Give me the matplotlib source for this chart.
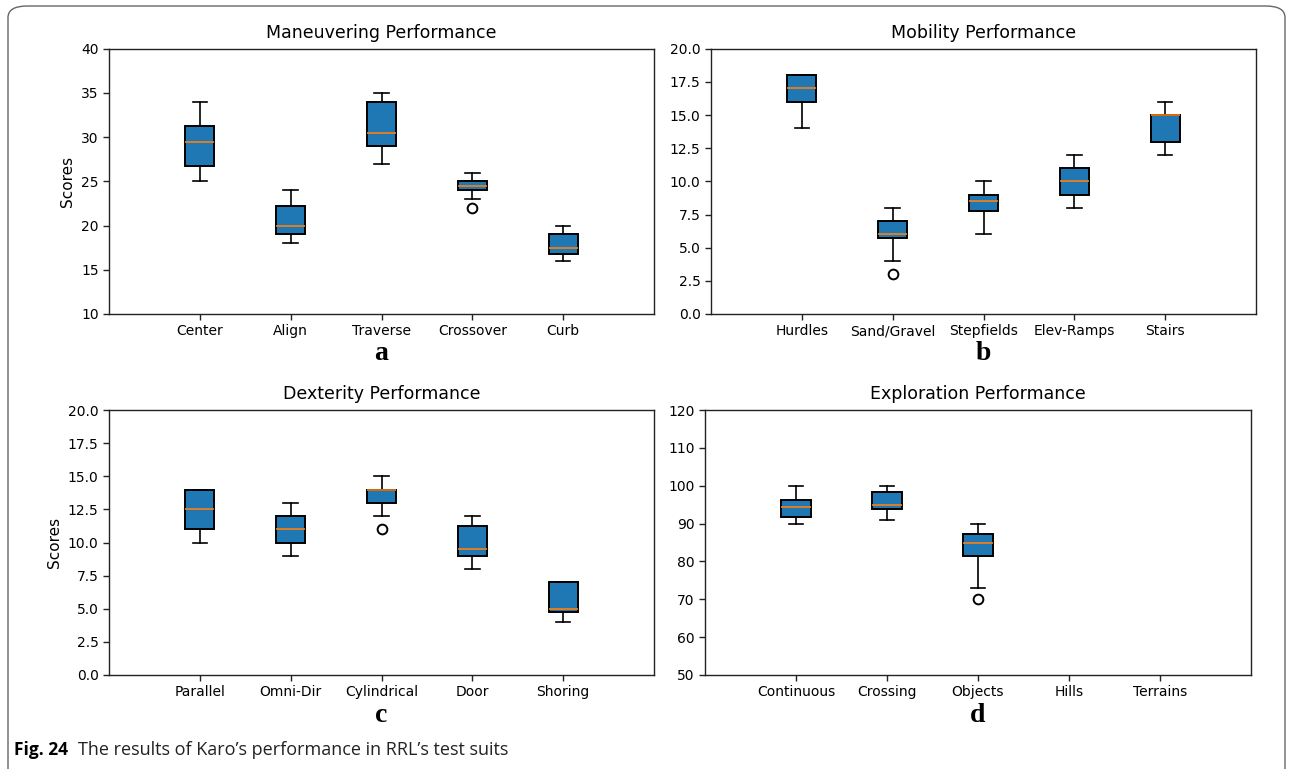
import matplotlib
matplotlib.use("Agg")
import matplotlib.pyplot as plt
from matplotlib.patches import FancyBboxPatch

# ---------------- data ----------------
man_labels = ["Center", "Align", "Traverse", "Crossover", "Curb"]
man_whislo = [25, 18, 27, 23, 16]
man_q1 = [26.75, 19, 29, 24, 16.75]
man_med = [29.5, 20, 30.5, 24.5, 17.5]
man_q3 = [31.25, 22.25, 34, 25, 19]
man_whishi = [34, 24, 35, 26, 20]
man_fliers = [[], [], [], [22], []]

mob_labels = ["Hurdles", "Sand/Gravel", "Stepfields", "Elev-Ramps", "Stairs"]
mob_whislo = [14, 4, 6, 8, 12]
mob_q1 = [16, 5.75, 7.75, 9, 13]
mob_med = [17, 6, 8.5, 10, 15]
mob_q3 = [18, 7, 9, 11, 15]
mob_whishi = [18, 8, 10, 12, 16]
mob_fliers = [[], [3], [], [], []]

dex_labels = ["Parallel", "Omni-Dir", "Cylindrical", "Door", "Shoring"]
dex_whislo = [10, 9, 12, 8, 4]
dex_q1 = [11, 10, 13, 9, 4.75]
dex_med = [12.5, 11, 14, 9.5, 5]
dex_q3 = [14, 12, 14, 11.25, 7]
dex_whishi = [14, 13, 15, 12, 7]
dex_fliers = [[], [], [11], [], []]

exp_labels = ["Continuous", "Crossing", "Objects", "Hills", "Terrains"]
exp_whislo = [90, 91, 73]
exp_q1 = [91.75, 93.75, 81.5]
exp_med = [94.5, 95, 85]
exp_q3 = [96.25, 98.25, 87.25]
exp_whishi = [100, 100, 90]
exp_fliers = [[], [], [70]]

titles = ["Maneuvering Performance", "Mobility Performance",
          "Dexterity Performance", "Exploration Performance"]
letters = ["a", "b", "c", "d"]
caption_bold = "Fig. 24"
caption_text = "The results of Karo\u2019s performance in RRL\u2019s test suits"

# ---------------- figure ----------------
W, H = 1291, 769
fig = plt.figure(figsize=(W / 100, H / 100), dpi=100)


def fx(px):
    return px / W


def fy(py):
    return 1 - py / H


rects = [
    (109, 48.7, 654, 314),
    (711, 48.7, 1256, 314),
    (109, 410, 654, 675),
    (705, 410, 1251, 675),
]

panels = [
    (man_labels, man_whislo, man_q1, man_med, man_q3, man_whishi, man_fliers,
     (10, 40), list(range(10, 41, 5)), "{:.0f}", True),
    (mob_labels, mob_whislo, mob_q1, mob_med, mob_q3, mob_whishi, mob_fliers,
     (0, 20), [i * 2.5 for i in range(9)], "{:.1f}", False),
    (dex_labels, dex_whislo, dex_q1, dex_med, dex_q3, dex_whishi, dex_fliers,
     (0, 20), [i * 2.5 for i in range(9)], "{:.1f}", True),
    (exp_labels, exp_whislo, exp_q1, exp_med, exp_q3, exp_whishi, exp_fliers,
     (50, 120), list(range(50, 121, 10)), "{:.0f}", False),
]

for i, (rect, panel) in enumerate(zip(rects, panels)):
    labels, wlo, q1, med, q3, whi, fl, ylim, yticks, fmt, ylab = panel
    l, t, r, b = rect
    ax = fig.add_axes([fx(l), fy(b), fx(r) - fx(l), fy(t) - fy(b)])
    stats = []
    for j in range(len(q1)):
        stats.append(dict(label=labels[j], whislo=wlo[j], q1=q1[j], med=med[j],
                          q3=q3[j], whishi=whi[j], fliers=fl[j]))
    positions = list(range(1, len(q1) + 1))
    ax.bxp(stats, positions=positions, widths=0.32, patch_artist=True,
           boxprops=dict(facecolor="#1f77b4", edgecolor="black", linewidth=1.4),
           medianprops=dict(color="#ff7f0e", linewidth=1.2),
           whiskerprops=dict(color="black", linewidth=1.2),
           capprops=dict(color="black", linewidth=1.2),
           flierprops=dict(marker="o", markerfacecolor="white",
                           markeredgecolor="black", markersize=7,
                           markeredgewidth=1.4))
    ax.set_xlim(0, 6)
    ax.set_xticks(range(1, len(labels) + 1))
    ax.set_xticklabels(labels, fontsize=10)
    ax.set_ylim(*ylim)
    ax.set_yticks(yticks)
    ax.set_yticklabels([fmt.format(v) for v in yticks], fontsize=10)
    ax.set_title(titles[i], fontsize=12.5, pad=8)
    if ylab:
        ax.set_ylabel("Scores", fontsize=11)
    for s in ax.spines.values():
        s.set_linewidth(1.0)
        s.set_color("#222222")
    ax.tick_params(length=4, width=1, color="#222222")
    # panel letter
    fig.text(fx((l + r) / 2), fy(b + 40), letters[i], ha="center", va="center",
             fontsize=20, fontweight="bold", family="Liberation Serif")

# caption
t1 = fig.text(fx(14), fy(750), caption_bold, ha="left", va="center",
              fontsize=12.5, fontweight="bold", family="Open Sans")
fig.canvas.draw()
bb = t1.get_window_extent()
fig.text((bb.x1 + 10) / W, fy(750), caption_text, ha="left", va="center",
         fontsize=13, family="Open Sans", color="#222222")

# rounded border
border = FancyBboxPatch((fx(8), fy(790)), fx(1285) - fx(8), fy(6) - fy(790),
                        boxstyle="round,pad=0,rounding_size=0.015",
                        transform=fig.transFigure, fill=False,
                        edgecolor="#666666", linewidth=1.0, clip_on=False)
fig.patches.append(border)

fig.savefig("out.png", dpi=100)
